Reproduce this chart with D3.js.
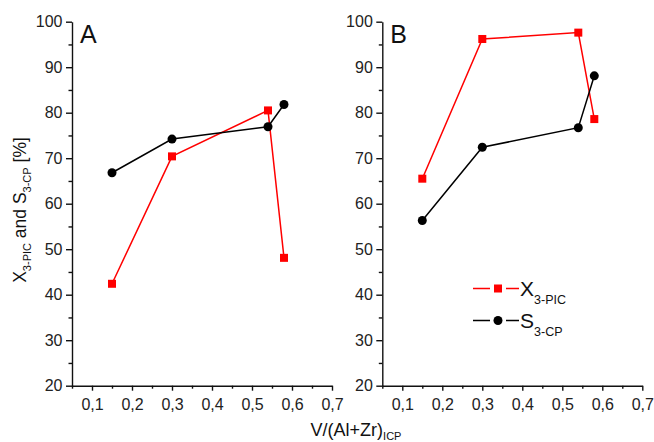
<!DOCTYPE html>
<html>
<head>
<meta charset="utf-8">
<script src="https://cdn.jsdelivr.net/npm/d3@7"></script>
<style>
  body { margin: 0; background: #fff; }
  svg { font-family: "Liberation Sans", Arial, sans-serif; }
</style>
</head>
<body>
<svg width="654" height="442"></svg>
<script>
// data
var ratio = [0.15, 0.30, 0.54, 0.58];
var xPicA = [42.4, 70.4, 80.5, 48.1];
var sCpA = [66.8, 74.2, 76.9, 81.8];
var xPicB = [65.5, 96.2, 97.6, 78.6];
var sCpB = [56.3, 72.4, 76.7, 88.1];
var xTicks = [0.1, 0.2, 0.3, 0.4, 0.5, 0.6, 0.7];
var yTicks = [20, 30, 40, 50, 60, 70, 80, 90, 100];

var svg = d3.select("svg");
var top_ = 21.7, bottom = 385.7;

var y = d3.scaleLinear().domain([20, 100]).range([bottom, top_]);

function panel(left, label, xs, ss, legend) {
    var x = d3.scaleLinear().domain([0.05, 0.7]).range([left, left + 260]);
    var g = svg.append("g");

    // minor ticks first
    g.append("g")
        .attr("transform", "translate(" + left + ",0)")
        .call(d3.axisLeft(y).tickValues(d3.range(25, 100, 10)).tickSize(3.5).tickFormat(""))
        .call(function (a) { a.select(".domain").remove(); });
    g.append("g")
        .attr("transform", "translate(0," + bottom + ")")
        .call(d3.axisBottom(x).tickValues(d3.range(0.05, 0.7, 0.1)).tickSize(3).tickFormat(""))
        .call(function (a) { a.select(".domain").remove(); });

    g.append("g")
        .attr("transform", "translate(" + left + ",0)")
        .call(d3.axisLeft(y).tickValues(yTicks).tickSize(6).tickPadding(3.5).tickSizeOuter(0));
    g.append("g")
        .attr("transform", "translate(0," + bottom + ")")
        .call(d3.axisBottom(x).tickValues(xTicks).tickSize(5).tickPadding(7.5).tickSizeOuter(0)
            .tickFormat(function (d) { return d3.format(".1f")(d).replace(".", ","); }));

    g.selectAll(".domain, .tick line").attr("stroke", "#111").attr("stroke-width", 1.4);
    g.selectAll(".tick text").attr("font-size", 16).attr("fill", "#222")
        .attr("font-family", "'Liberation Sans', Arial, sans-serif");

    g.append("text")
        .attr("x", left + 8).attr("y", 43)
        .attr("font-size", 25).attr("fill", "#111")
        .text(label);

    var line = d3.line()
        .x(function (d) { return x(d[0]); })
        .y(function (d) { return y(d[1]); });

    var red = d3.zip(ratio, xs), black = d3.zip(ratio, ss);

    g.append("path").datum(red).attr("d", line)
        .attr("fill", "none").attr("stroke", "#ff0000").attr("stroke-width", 1.5);
    g.append("path").datum(black).attr("d", line)
        .attr("fill", "none").attr("stroke", "#000").attr("stroke-width", 1.5);

    g.selectAll(".sq").data(red).enter().append("rect")
        .attr("x", function (d) { return x(d[0]) - 4; })
        .attr("y", function (d) { return y(d[1]) - 4; })
        .attr("width", 8).attr("height", 8)
        .attr("fill", "#ff0000");
    g.selectAll(".ci").data(black).enter().append("circle")
        .attr("cx", function (d) { return x(d[0]); })
        .attr("cy", function (d) { return y(d[1]); })
        .attr("r", 4.5)
        .attr("fill", "#000");

    if (legend) {
        var items = [
            { c: "#ff0000", m: "sq", main: "X", sub: "3-PIC", yy: 288.5 },
            { c: "#000", m: "ci", main: "S", sub: "3-CP", yy: 320.5 }
        ];
        items.forEach(function (it) {
            g.append("line").attr("x1", 473).attr("x2", 519)
                .attr("y1", it.yy).attr("y2", it.yy)
                .attr("stroke", it.c).attr("stroke-width", 1.5);
            // white gaps round the marker like the original
            g.append("line").attr("x1", 490).attr("x2", 506)
                .attr("y1", it.yy).attr("y2", it.yy)
                .attr("stroke", "#fff").attr("stroke-width", 3);
            if (it.m == "sq") {
                g.append("rect").attr("x", 494).attr("y", it.yy - 4)
                    .attr("width", 8).attr("height", 8).attr("fill", it.c);
            } else {
                g.append("circle").attr("cx", 498).attr("cy", it.yy)
                    .attr("r", 4.5).attr("fill", it.c);
            }
            var t = g.append("text").attr("x", 520).attr("y", it.yy + 7)
                .attr("font-size", 21).attr("fill", "#111");
            t.append("tspan").text(it.main);
            t.append("tspan").attr("font-size", 12.5).attr("dy", 8).text(it.sub);
        });
    }
}

panel(72, "A", xPicA, sCpA, false);
panel(382.3, "B", xPicB, sCpB, true);

// axis titles
var xt = svg.append("text")
    .attr("x", 356).attr("y", 436)
    .attr("text-anchor", "middle")
    .attr("font-size", 18).attr("fill", "#111");
xt.append("tspan").text("V/(Al+Zr)");
xt.append("tspan").attr("font-size", 11).attr("dy", 4).text("ICP");

var yt = svg.append("text")
    .attr("transform", "translate(26,210) rotate(-90)")
    .attr("text-anchor", "middle")
    .attr("font-size", 17.5).attr("fill", "#111");
yt.append("tspan").text("X");
yt.append("tspan").attr("font-size", 11).attr("dy", 5).text("3-PIC");
yt.append("tspan").attr("dy", -5).text(" and S");
yt.append("tspan").attr("font-size", 11).attr("dy", 5).text("3-CP");
yt.append("tspan").attr("dy", -5).text(" [%]");
</script>
</body>
</html>
